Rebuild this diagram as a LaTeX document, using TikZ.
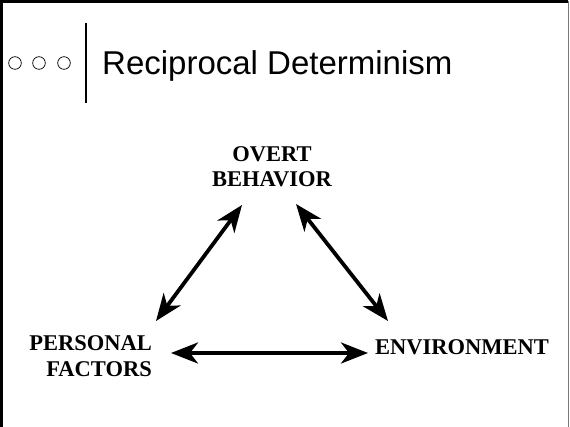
\documentclass[tikz,border=0pt]{standalone}
\usepackage{fontspec}
\setmainfont{Liberation Serif}
\newfontfamily\titlefont{Liberation Sans}
\usetikzlibrary{arrows.meta}
\definecolor{cadre}{RGB}{120, 120, 120}

\begin{document}
\begin{tikzpicture}[x=1pt,y=-1pt,
		lab/.style={font=\fontsize{22.5}{25}\selectfont\bfseries, inner sep=0pt},
		dbl/.style={line width=3.8pt, {Stealth[length=27pt 0,width=21pt 0,inset=8pt 0]}-{Stealth[length=27pt 0,width=21pt 0,inset=8pt 0]}}]
				\useasboundingbox (0,0) rectangle (570,427);
				% le cadre
				\draw[line width=2.5pt] (1.25,430)--(1.25,1.5)--(568,1.5);
				\draw[cadre, line width=1.6pt] (568.5,1.5)--(568.5,430);
				% le titre
				\foreach \x in {15, 39, 64}{
					\draw[line width=0.7pt] (\x,63) circle (6.3);}
				\draw[line width=2pt] (86,23)--(86,103);
				\node[font=\titlefont\fontsize{33}{38}\selectfont, anchor=base west, inner sep=0pt] (titre) at (102,75) {Reciprocal Determinism};
				% les trois facteurs
				\node[lab, align=center, anchor=base] (ob) at (272,187) {OVERT\\BEHAVIOR};
				\node[lab, align=right, anchor=base east] (pf) at (152,376) {PERSONAL\\FACTORS};
				\node[lab, anchor=base west] (env) at (375,355) {ENVIRONMENT};
				\coordinate (obl) at (242,205);
				\coordinate (obr) at (296,204);
				\coordinate (pfu) at (156,321);
				\coordinate (pfr) at (171,353);
				\coordinate (envu) at (388,321);
				\coordinate (envl) at (368,353);
				\draw[dbl] (pfu)--(obl);
				\draw[dbl] (obr)--(envu);
				\draw[dbl] (pfr)--(envl);
			\end{tikzpicture}
\end{document}
